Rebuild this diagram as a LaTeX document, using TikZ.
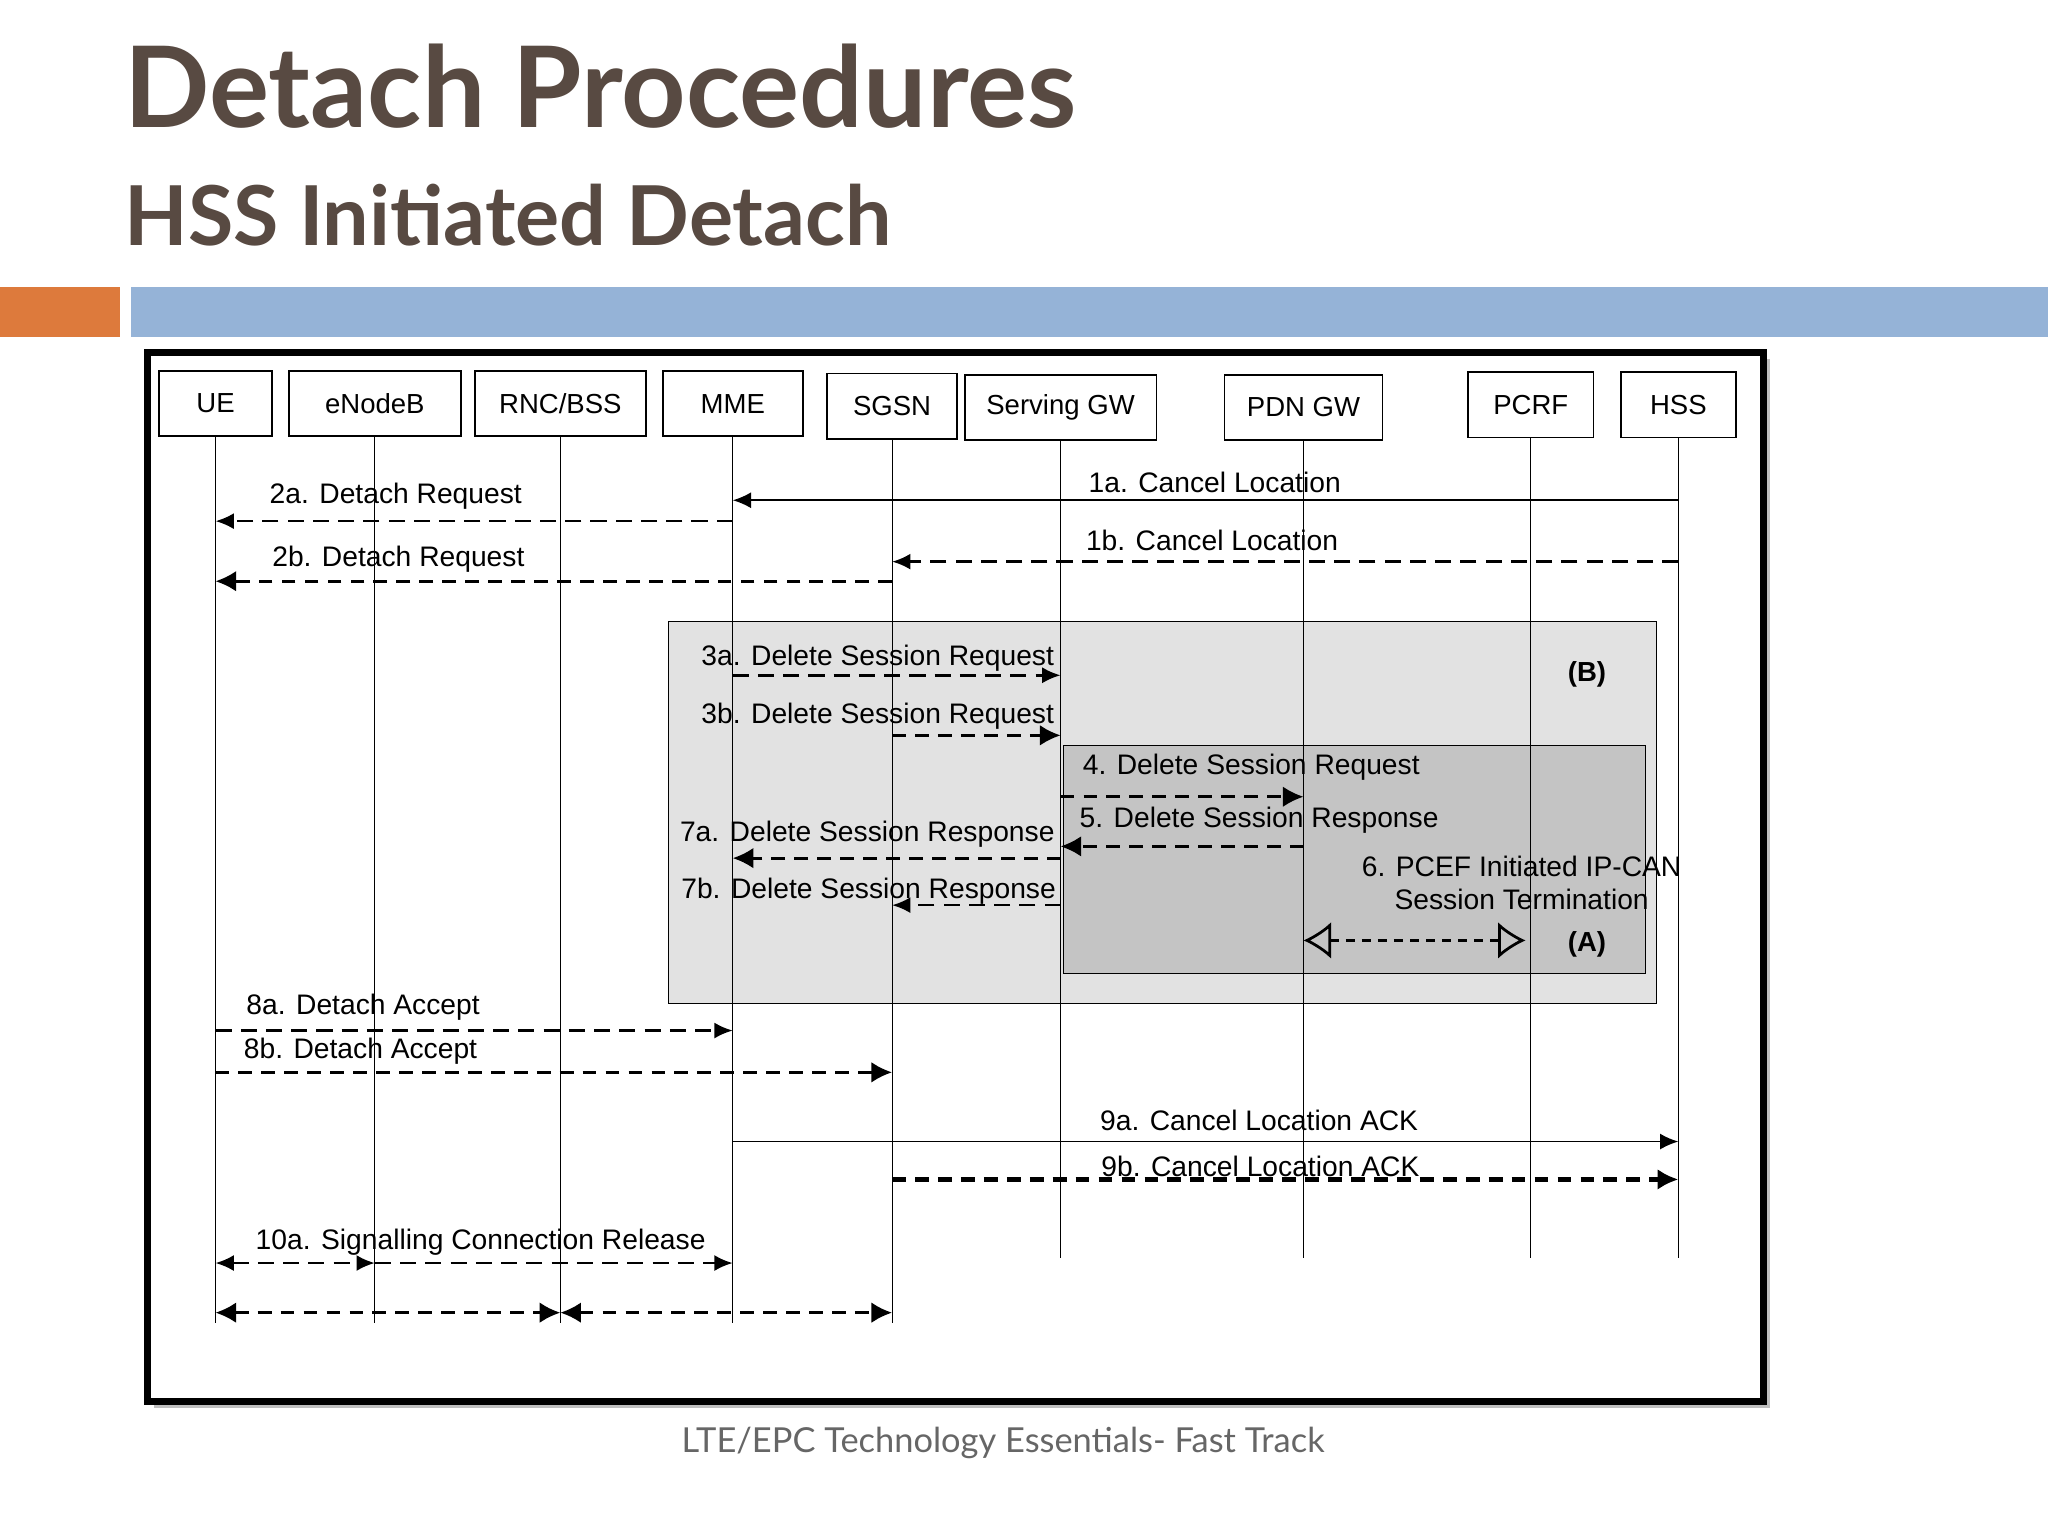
\documentclass[tikz,border=0pt]{standalone}
\usepackage{fontspec}
\setmainfont{Liberation Sans}
\newfontfamily\titlefont{Lato}
\usetikzlibrary{arrows.meta}
\definecolor{titlebrown}{HTML}{584A42}
\definecolor{barorange}{HTML}{DD7A3C}
\definecolor{barblue}{HTML}{95B3D7}
\definecolor{boxB}{HTML}{E2E2E2}
\definecolor{boxA}{HTML}{C4C4C4}
\tikzset{
  ent/.style={draw, thick, fill=white, minimum height=1cm, inner sep=0pt, font=\fontsize{12}{14}\selectfont},
  life/.style={thin},
  msg/.style={thick, -{Latex[length=8pt,width=7pt]}},
  dmsg/.style={msg, line width=1.1pt, dash pattern=on 7pt off 4pt},
  bmsg/.style={very thick, dash pattern=on 6pt off 4pt, -{Latex[length=9pt,width=9pt]}},
  lbl/.style={font=\fontsize{12.3}{14}\selectfont, inner sep=1pt}
}
\begin{document}
\begin{tikzpicture}[x=0.02cm, y=-0.02cm]
\useasboundingbox (0,0) rectangle (1568,1176);

% -------- Heading -----------
\node[anchor=base west, text=titlebrown, font=\titlefont\bfseries\fontsize{49}{56}\selectfont, inner sep=0] (title) at (95,98) {Detach Procedures};
\node[anchor=base west, text=titlebrown, font=\titlefont\bfseries\fontsize{36}{42}\selectfont, inner sep=0] (subtitle) at (95,188) {HSS Initiated Detach};
\fill[barorange] (0,220) rectangle (92,258);
\fill[barblue] (100,220) rectangle (1568,258);

% -------- Frame -----------
\fill[gray!50] (118,275) rectangle (1355,1078);
\draw[line width=3pt, fill=white] (113,270) rectangle (1350,1073);

% -------- Shaded areas -----------
\draw[fill=boxB] (512,476) rectangle (1268,768);
\draw[fill=boxA] (814,571) rectangle (1260,745);

% -------- Entities -----------
\node[ent, minimum width=1.74cm] (ue)   at (165,309) {UE};
\node[ent, minimum width=2.64cm] (enb)  at (287,309) {eNodeB};
\node[ent, minimum width=2.62cm] (rnc)  at (429,309) {RNC/BSS};
\node[ent, minimum width=2.14cm] (mme)  at (561,309) {MME};
\node[ent, minimum width=2.0cm]  (sgsn) at (683,311) {SGSN};
\node[ent, minimum width=2.94cm] (sgw)  at (812,312) {Serving GW};
\node[ent, minimum width=2.42cm] (pgw)  at (998,312) {PDN GW};
\node[ent, minimum width=1.92cm] (pcrf) at (1172,310) {PCRF};
\node[ent, minimum width=1.76cm] (hss)  at (1285,310) {HSS};

\coordinate (ueE)   at (165,1013);
\coordinate (enbE)  at (287,1013);
\coordinate (rncE)  at (429,1013);
\coordinate (mmeE)  at (561,1013);
\coordinate (sgsnE) at (683,1013);
\coordinate (sgwE)  at (812,963);
\coordinate (pgwE)  at (998,963);
\coordinate (pcrfE) at (1172,963);
\coordinate (hssE)  at (1285,963);
\foreach \e in {ue,enb,rnc,mme,sgsn,sgw,pgw,pcrf,hss}
  \draw[life] (\e.south) -- (\e E);

% -------- Messages -----------
\draw[msg]  (hss |- 0,383) -- (mme |- 0,383);
\node[lbl] at (930,369) {1a. Cancel Location};
\draw[dmsg] (hss |- 0,430) -- (sgsn |- 0,430);
\node[lbl] at (928,414) {1b. Cancel Location};
\draw[dmsg] (mme |- 0,399) -- (ue |- 0,399);
\node[lbl] at (303,380) {2a. Detach Request};
\draw[bmsg] (sgsn |- 0,445) -- (ue |- 0,445);
\node[lbl] at (305,428) {2b. Detach Request};

\node[lbl, font=\bfseries\fontsize{12}{14}\selectfont] at (1215,516) {(B)};
\draw[dmsg] (mme |- 0,517) -- (sgw |- 0,517);
\node[lbl] at (672,504) {3a. Delete Session Request};
\draw[bmsg] (sgsn |- 0,563) -- (sgw |- 0,563);
\node[lbl] at (672,548) {3b. Delete Session Request};
\draw[bmsg] (sgw |- 0,610) -- (pgw |- 0,610);
\node[lbl] at (958,587) {4. Delete Session Request};
\draw[bmsg] (pgw |- 0,648) -- (sgw |- 0,648);
\node[lbl] at (964,628) {5. Delete Session Response};
\node[lbl, align=center] at (1165,676) {6. PCEF Initiated IP-CAN\\Session Termination};
\draw[very thick, dash pattern=on 4pt off 3pt, {Latex[open,length=12pt,width=16pt]}-{Latex[open,length=12pt,width=16pt]}] (pgw |- 0,720) -- (1168,720);
\node[lbl, font=\bfseries\fontsize{12}{14}\selectfont] at (1215,723) {(A)};
\draw[bmsg] (sgw |- 0,657) -- (mme |- 0,657);
\node[lbl] at (664,639) {7a. Delete Session Response};
\draw[dmsg] (sgw |- 0,693) -- (sgsn |- 0,693);
\node[lbl] at (665,682) {7b. Delete Session Response};

\draw[dmsg] (ue |- 0,789) -- (mme |- 0,789);
\node[lbl] at (278,771) {8a. Detach Accept};
\draw[bmsg] (ue |- 0,821) -- (sgsn |- 0,821);
\node[lbl] at (276,805) {8b. Detach Accept};

\draw[msg]  (mme |- 0,874) -- (hss |- 0,874);
\node[lbl] at (964,858) {9a. Cancel Location ACK};
\draw[bmsg, line width=2.2pt] (sgsn |- 0,903) -- (hss |- 0,903);
\node[lbl] at (965,893) {9b. Cancel Location ACK};

\draw[dmsg, {Latex[length=8pt,width=7pt]}-{Latex[length=8pt,width=7pt]}] (ue |- 0,967) -- (enb |- 0,967);
\draw[dmsg] (enb |- 0,967) -- (mme |- 0,967);
\node[lbl] at (368,951) {10a. Signalling Connection Release};
\draw[bmsg, {Latex[length=9pt,width=9pt]}-{Latex[length=9pt,width=9pt]}] (ue |- 0,1005) -- (rnc |- 0,1005);
\draw[bmsg, {Latex[length=9pt,width=9pt]}-{Latex[length=9pt,width=9pt]}] (rnc |- 0,1005) -- (sgsn |- 0,1005);

% -------- Footer -----------
\node[text=gray!80!black, font=\titlefont\fontsize{15}{18}\selectfont] (foot) at (768,1105) {LTE/EPC Technology Essentials- Fast Track};
\end{tikzpicture}
\end{document}
